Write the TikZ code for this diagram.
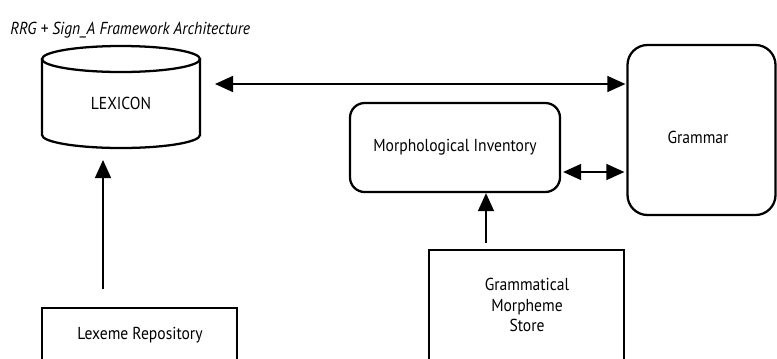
\documentclass[tikz,border=0pt]{standalone}
\usepackage{fontspec}
\setmainfont{PT Sans}[FakeStretch=0.9]
\usetikzlibrary{arrows.meta}
\tikzset{
  lbl/.style={font=\fontsize{13pt}{15.5pt}\selectfont, align=center, inner sep=0pt},
  thickbox/.style={draw, line width=1.7pt},
  thinbox/.style={draw, line width=1.2pt},
  ghost/.style={draw=none, inner sep=0pt, outer sep=0pt},
  conn/.style={line width=1.1pt, -{Triangle[length=13.5pt,width=12pt]}},
  conn2/.style={line width=1.1pt, {Triangle[length=13.5pt,width=12pt]}-{Triangle[length=13.5pt,width=12pt]}},
}
\begin{document}
\begin{tikzpicture}[x=0.75pt,y=-0.75pt]
\useasboundingbox (0,0) rectangle (777,358);
\clip (0,0) rectangle (777,358);

% title
\node[anchor=west, font=\itshape\fontsize{13pt}{15.5pt}\selectfont, inner sep=0pt] (title) at (10,30) {RRG + Sign\_A Framework Architecture};

% LEXICON cylinder
\draw[line width=1.7pt] (121,59) ellipse [x radius=79, y radius=13];
\draw[line width=1.7pt] (42,59) -- (42,135) arc[start angle=180, end angle=0, x radius=79, y radius=13] -- (200,59);
\node[ghost, minimum width=118.5pt, minimum height=76.5pt] (lexicon) at (121,97) {};
\node[lbl] (lexlabel) at (121,103) {LEXICON};

% Grammar
\node[thickbox, rounded corners=15pt, minimum width=111pt, minimum height=127.5pt] (grammar) at (701.5,130) {};
\node[lbl] (grammarlabel) at (698,137) {Grammar};

% Morphological Inventory
\node[thickbox, rounded corners=11pt, minimum width=157.5pt, minimum height=66.75pt, lbl] (morph) at (455,147.5) {Morphological Inventory};

% Grammatical Morpheme Store
\node[thinbox, minimum width=146.25pt, minimum height=112.5pt, anchor=north] (gms) at (526.5,249) {};
\node[lbl] (gmslabel) at (527,305) {Grammatical\\Morpheme\\Store};

% Lexeme Repository
\node[thinbox, minimum width=146.25pt, minimum height=75pt, anchor=north] (lexeme) at (139.5,307) {};
\node[lbl] (lexemelabel) at (140,335) {Lexeme Repository};

% connectors
\coordinate (ytop) at (0,84);
\coordinate (xlex) at (103,0);
\coordinate (xgms) at (486,0);
\coordinate (ymg) at (0,172);
\draw[conn2, shorten <=11.25pt, shorten >=0.75pt] (lexicon.east |- ytop) -- (grammar.west |- ytop);
\draw[conn, shorten <=13.5pt, shorten >=9pt] (lexeme.north -| xlex) -- (lexicon.south -| xlex);
\draw[conn, shorten <=4.5pt] (gms.north -| xgms) -- (morph.south -| xgms);
\draw[conn2, shorten <=1.5pt, shorten >=1.5pt] (morph.east |- ymg) -- (grammar.west |- ymg);
\end{tikzpicture}
\end{document}
